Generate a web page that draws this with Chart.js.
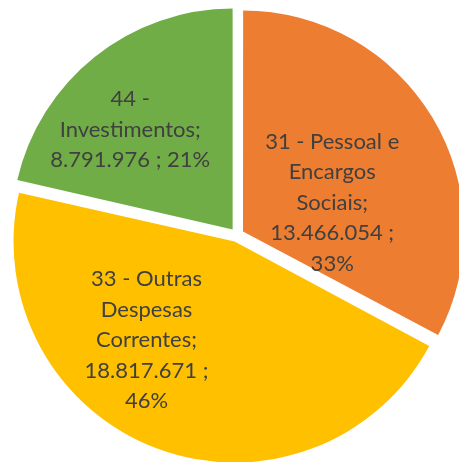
<!DOCTYPE html>
<html>
<head>
<meta charset="utf-8">
<script src="https://cdn.jsdelivr.net/npm/chart.js@4"></script>
<style>
  html, body { margin: 0; padding: 0; background: #fff; overflow: hidden; }
  body { width: 459px; height: 462px; position: relative; }
  #wrap { position: absolute; left: 2px; top: 0px; width: 470px; height: 470px; }
</style>
</head>
<body>
<div id="wrap"><canvas id="chart"></canvas></div>
<script>
const categories = ['31 - Pessoal e Encargos Sociais', '33 - Outras Despesas Correntes', '44 - Investimentos'];
const values = [13466054, 18817671, 8791976];
const percents = ['33%', '46%', '21%'];
const colors = ['#ED7D31', '#FFC000', '#70AD47'];

// label text split the way the original wraps it
const labelLines = [
    ['31 - Pessoal e', 'Encargos', 'Sociais;', '13.466.054 ;', '33%'],
    ['33 - Outras', 'Despesas', 'Correntes;', '18.817.671 ;', '46%'],
    ['44 -', 'Investimentos;', '8.791.976 ; 21%']
];
// placement: degrees turned from the slice bisector, distance as share of radius
const labelShift = [12.2, 20.2, -6.9];
const labelDist = [0.455, 0.628, 0.678];

const EXPLODE = 28; // v4 draws offset/4 -> ~7px explode

// chart.js grows wide slices by offset*(1-sin(circ)) when exploded; undo that
const keepRadius = {
    id: 'keepRadius',
    afterDatasetUpdate(chart, args) {
        const meta = chart.getDatasetMeta(args.index);
        const base = meta.controller.outerRadius;
        meta.data.forEach(arc => {
            const circ = arc.endAngle - arc.startAngle;
            const fix = 1 - Math.sin(Math.min(Math.PI, circ));
            arc.outerRadius = base - EXPLODE / 4 * fix;
        });
    }
};

const sliceLabels = {
    id: 'sliceLabels',
    afterDatasetsDraw(chart) {
        const ctx = chart.ctx;
        const meta = chart.getDatasetMeta(0);
        const R = meta.controller.outerRadius;
        ctx.save();
        ctx.font = '22px Lato';
        ctx.fillStyle = '#404040';
        ctx.textAlign = 'center';
        ctx.textBaseline = 'middle';
        const lh = 30.5;
        meta.data.forEach((arc, i) => {
            const mid = (arc.startAngle + arc.endAngle) / 2 + labelShift[i] * Math.PI / 180;
            const r = R * labelDist[i];
            const x = arc.x + Math.cos(mid) * r;
            const y = arc.y + Math.sin(mid) * r;
            const lines = labelLines[i];
            const top = y - (lines.length - 1) * lh / 2;
            lines.forEach((t, j) => ctx.fillText(t, x, top + j * lh));
        });
        ctx.restore();
    }
};

new Chart(document.getElementById('chart'), {
    type: 'pie',
    data: {
        labels: categories,
        datasets: [{
            data: values,
            backgroundColor: colors,
            borderWidth: 0,
            offset: EXPLODE,
            hoverOffset: 0
        }]
    },
    options: {
        responsive: true,
        maintainAspectRatio: false,
        animation: false,
        layout: { padding: 0 },
        plugins: {
            legend: { display: false },
            tooltip: { enabled: false }
        }
    },
    plugins: [keepRadius, sliceLabels]
});
</script>
</body>
</html>
